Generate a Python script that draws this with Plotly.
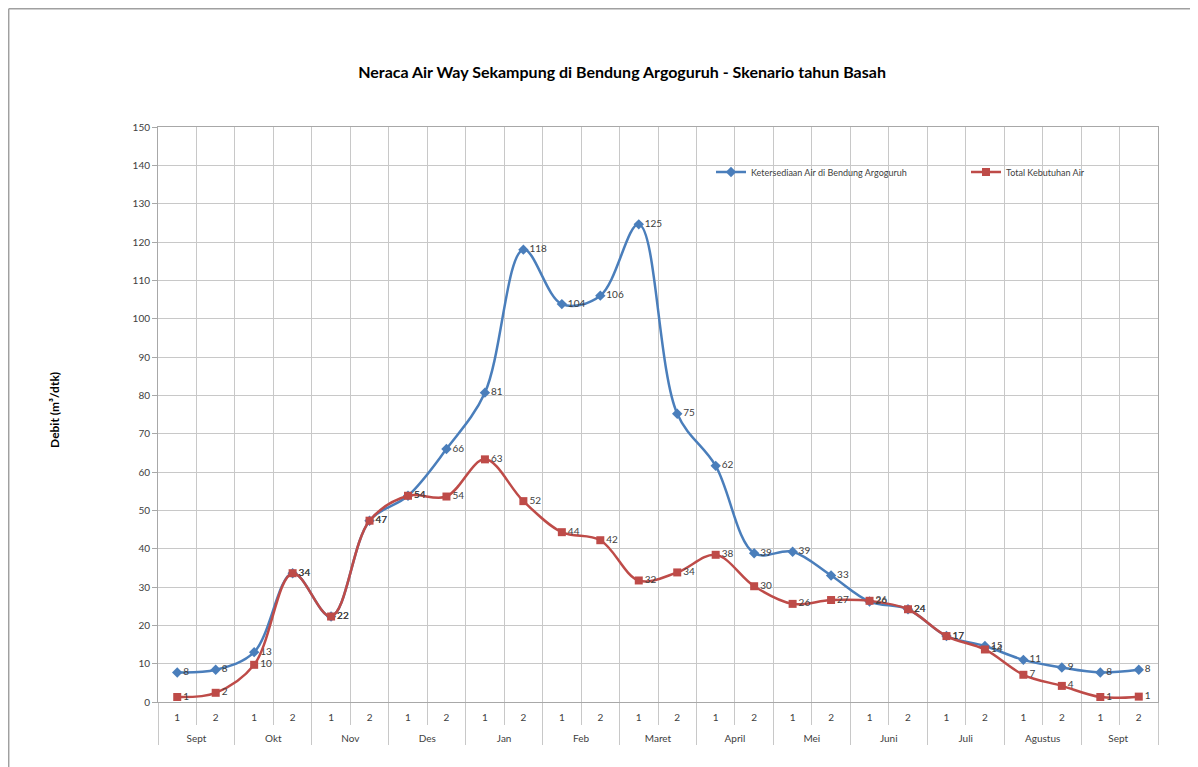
import plotly.graph_objects as go

months = ["Sept", "Okt", "Nov", "Des", "Jan", "Feb", "Maret", "April",
          "Mei", "Juni", "Juli", "Agustus", "Sept "]
halves = ["1", "2"]

ketersediaan = [7.7, 8.4, 13.0, 33.6, 22.3, 47.3, 53.8, 66.0, 80.7, 118.0,
                103.8, 106.0, 124.6, 75.2, 61.6, 38.8, 39.2, 33.0, 26.2, 24.2,
                17.2, 14.6, 11.0, 9.0, 7.7, 8.4]
kebutuhan = [1.3, 2.4, 9.7, 33.6, 22.3, 47.3, 53.8, 53.6, 63.3, 52.4,
             44.3, 42.2, 31.7, 33.8, 38.4, 30.2, 25.6, 26.6, 26.4, 24.2,
             17.2, 13.7, 7.1, 4.2, 1.3, 1.4]

# outer labels get a leading line break so they sit one row lower, as in the reference
outer = ["<br>" + m for m in months for _ in halves]
inner = [h for _ in months for h in halves]

BLUE = "#4A7EBB"
RED = "#BE4B48"
TXT = "#404040"
GRID = "#C8C8C8"
FONT = "Lato"

fig = go.Figure()
fig.add_trace(go.Scatter(
    x=[outer, inner], y=ketersediaan, name="Ketersediaan Air di Bendung Argoguruh",
    legend="legend",
    mode="lines+markers+text", line=dict(color=BLUE, width=2.5, shape="spline", smoothing=1),
    marker=dict(symbol="diamond", size=8, color=BLUE),
    texttemplate="%{y:.0f}", textposition="middle right",
    textfont=dict(family=FONT, size=10, color=TXT)))
fig.add_trace(go.Scatter(
    x=[outer, inner], y=kebutuhan, name="Total Kebutuhan Air",
    legend="legend2",
    mode="lines+markers+text", line=dict(color=RED, width=2.5, shape="spline", smoothing=1),
    marker=dict(symbol="square", size=8, color=RED),
    texttemplate="%{y:.0f}", textposition="middle right",
    textfont=dict(family=FONT, size=10, color=TXT)))

legend_common = dict(orientation="h", yanchor="middle", xanchor="left",
                     bgcolor="rgba(0,0,0,0)", itemwidth=30,
                     font=dict(family=FONT, size=9, color=TXT))

fig.update_layout(
    width=1190, height=759,
    margin=dict(l=150, r=40, t=119, b=65),
    paper_bgcolor="white", plot_bgcolor="white",
    title=dict(text="<b>Neraca Air Way Sekampung di Bendung Argoguruh - Skenario tahun Basah</b>",
               x=0.516, xanchor="center", y=0.9157, yanchor="middle",
               font=dict(family=FONT, size=16, color="black")),
    showlegend=True,
    legend=dict(x=0.553, y=0.9217, **legend_common),
    legend2=dict(x=0.808, y=0.9217, **legend_common),
    xaxis=dict(type="multicategory", tickson="boundaries", showgrid=True,
               gridcolor=GRID, gridwidth=1, showline=True, linecolor="#A8A8A8",
               mirror=True, ticks="outside", ticklen=22, tickcolor=GRID,
               showdividers=True, dividercolor=GRID, dividerwidth=1,
               ticklabelstandoff=6, automargin=False,
               tickfont=dict(family=FONT, size=10, color=TXT),
               range=[-0.5, 25.5]),
    yaxis=dict(range=[0, 150], dtick=10, showgrid=True, gridcolor=GRID,
               gridwidth=1, showline=True, linecolor="#A8A8A8", mirror=True,
               zeroline=False, ticks="outside", ticklen=5, tickcolor="#A8A8A8",
               automargin=False,
               tickfont=dict(family=FONT, size=10, color=TXT)),
    annotations=[
        dict(text="<b>Debit (m³/dtk)</b>", xref="paper", yref="paper",
             x=-0.103, y=0.508, textangle=-90, showarrow=False,
             xanchor="center", yanchor="middle",
             font=dict(family=FONT, size=12, color="black")),
    ],
    shapes=[
        dict(type="line", xref="paper", yref="paper", x0=-0.1493, x1=1.05, y0=1.2057, y1=1.2057,
             line=dict(color="#A0A0A0", width=1.5)),
        dict(type="line", xref="paper", yref="paper", x0=-0.1493, x1=-0.1493, y0=-0.12, y1=1.2057,
             line=dict(color="#A0A0A0", width=1.5)),
    ],
)

fig.write_html("out.html")
